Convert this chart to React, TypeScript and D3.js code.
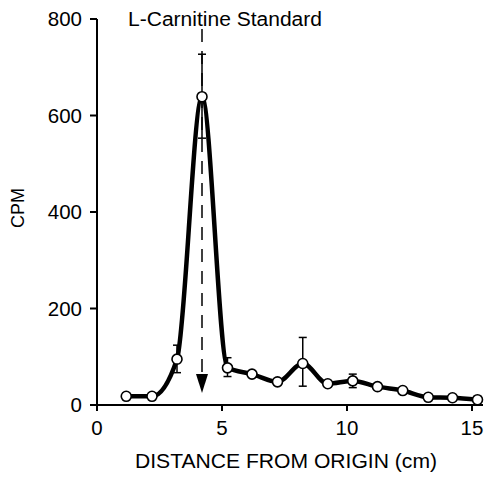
import React from "react";
import * as d3 from "d3";

// distance from origin (cm) and counts per minute
const distance = [1.17, 2.2, 3.2, 4.2, 5.22, 6.2, 7.22, 8.23, 9.23, 10.23, 11.22, 12.23, 13.25, 14.22, 15.22];
const cpm = [18, 18, 95, 639, 77, 64, 48, 86, 44, 50, 38, 30, 16, 15, 11];
// error bar extents (value +/-), 0 = none drawn
const errUp = [0, 0, 29, 88, 21, 0, 0, 54, 0, 14, 0, 0, 0, 0, 0];
const errDown = [0, 0, 28, 86, 18, 0, 0, 47, 0, 14, 0, 0, 0, 0, 0];

const xTicks = [0, 5, 10, 15];
const yTicks = [0, 200, 400, 600, 800];
const standardAt = 4.2;

const W = 485;
const H = 478;
const margin = { top: 19, right: 2, bottom: 73, left: 97 };

const x = d3.scaleLinear().domain([0, 15]).range([margin.left, 472]);
const y = d3.scaleLinear().domain([0, 800]).range([H - margin.bottom, margin.top]);

const font = "'Liberation Sans', Arial, Helvetica, sans-serif";

export default function App() {
  const points = distance.map((d, i) => ({ d, v: cpm[i], up: errUp[i], dn: errDown[i] }));
  const line = d3
    .line<(typeof points)[number]>()
    .x((p) => x(p.d))
    .y((p) => y(p.v))
    .curve(d3.curveMonotoneX);

  const y0 = y(0);
  const arrowTip = y0 - 12;
  const sx = x(standardAt);

  return (
    <svg
      width={W}
      height={H}
      style={{ position: "absolute", left: 0, top: 0, background: "#fff" }}
      fontFamily={font}
    >
      {/* y axis */}
      <line x1={x(0)} x2={x(0)} y1={y(800)} y2={y0} stroke="#000" strokeWidth={2} />
      {yTicks.map((t) => (
        <g key={t}>
          <line x1={x(0) - 7} x2={x(0)} y1={y(t)} y2={y(t)} stroke="#000" strokeWidth={2} />
          <text x={x(0) - 15} y={y(t)} dy="0.36em" textAnchor="end" fontSize={20.5}>
            {t}
          </text>
        </g>
      ))}
      <text transform="translate(24,208) rotate(-90)" textAnchor="middle" fontSize={18}>
        CPM
      </text>

      {/* x axis */}
      <line x1={x(0)} x2={483} y1={y0} y2={y0} stroke="#000" strokeWidth={2} />
      {xTicks.map((t) => (
        <g key={t}>
          <line x1={x(t)} x2={x(t)} y1={y0} y2={y0 + 6} stroke="#000" strokeWidth={2} />
          <text x={x(t)} y={435} textAnchor="middle" fontSize={20.5}>
            {t}
          </text>
        </g>
      ))}
      <text x={286} y={468} textAnchor="middle" fontSize={21} textLength={302} lengthAdjust="spacingAndGlyphs">
        DISTANCE FROM ORIGIN (cm)
      </text>

      {/* standard marker */}
      <text x={225} y={26} textAnchor="middle" fontSize={19.5} textLength={194} lengthAdjust="spacingAndGlyphs">
        L-Carnitine Standard
      </text>
      <line
        x1={sx}
        x2={sx}
        y1={29}
        y2={arrowTip - 16}
        stroke="#000"
        strokeWidth={1.5}
        strokeDasharray="13,9"
      />
      <path
        d={`M${sx - 6},${arrowTip - 19}L${sx + 6},${arrowTip - 19}L${sx},${arrowTip}Z`}
        fill="#000"
      />

      {/* error bars */}
      {points
        .filter((p) => p.up > 0 || p.dn > 0)
        .map((p, i) => (
          <g key={i} stroke="#000" strokeWidth={1.5}>
            <line x1={x(p.d)} x2={x(p.d)} y1={y(p.v + p.up)} y2={y(p.v - p.dn)} />
            <line x1={x(p.d) - 4} x2={x(p.d) + 4} y1={y(p.v + p.up)} y2={y(p.v + p.up)} />
            <line x1={x(p.d) - 4} x2={x(p.d) + 4} y1={y(p.v - p.dn)} y2={y(p.v - p.dn)} />
          </g>
        ))}

      {/* data */}
      <path d={line(points) ?? ""} fill="none" stroke="#000" strokeWidth={4.5} strokeLinejoin="round" />
      {points.map((p, i) => (
        <circle key={i} cx={x(p.d)} cy={y(p.v)} r={5} fill="#fff" stroke="#000" strokeWidth={1.6} />
      ))}
    </svg>
  );
}
